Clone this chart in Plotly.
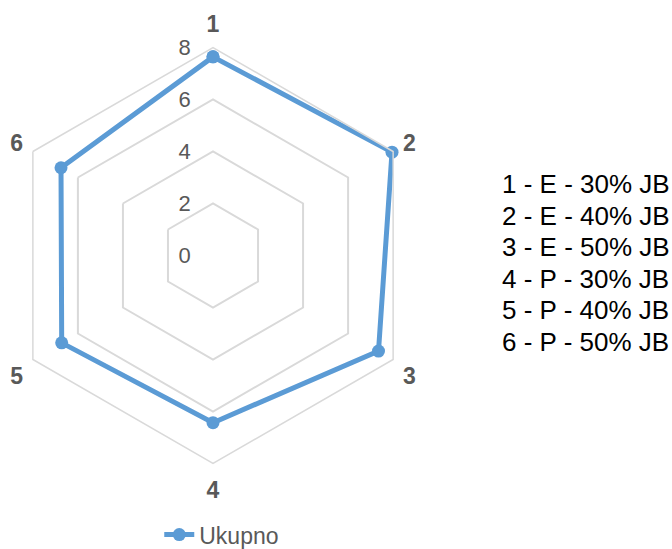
import plotly.graph_objects as go

# Radar categories and the "Ukupno" totals for each
categories = ["1", "2", "3", "4", "5", "6"]
ukupno = [7.64, 7.95, 7.35, 6.43, 6.72, 6.75]
radial_ticks = [0, 2, 4, 6, 8]
key_lines = [
    "1 - E - 30% JB",
    "2 - E - 40% JB",
    "3 - E - 50% JB",
    "4 - P - 30% JB",
    "5 - P - 40% JB",
    "6 - P - 50% JB",
]

BLUE = "#5B9BD5"
GRID = "#D9D9D9"
TEXT = "#595959"
FONT = "Liberation Sans, Arial, sans-serif"

fig = go.Figure()
fig.add_trace(
    go.Scatterpolar(
        r=ukupno + ukupno[:1],
        theta=categories + categories[:1],
        mode="lines+markers",
        name="Ukupno",
        line=dict(color=BLUE, width=5),
        marker=dict(color=BLUE, size=13),
    )
)

W, H = 672, 549
cx, cy, R = 213, 255.5, 208

# key text block on the right, one line per category
key_top, key_step = 184, 31.6
annotations = [
    dict(
        text=line,
        x=500 / W,
        xref="paper",
        xanchor="left",
        y=1 - (key_top + i * key_step) / H,
        yref="paper",
        yanchor="middle",
        align="left",
        showarrow=False,
        font=dict(size=26, color="black", family=FONT),
    )
    for i, line in enumerate(key_lines)
]

fig.update_layout(
    width=W,
    height=H,
    margin=dict(l=0, r=0, t=0, b=0, autoexpand=False),
    paper_bgcolor="white",
    font=dict(family=FONT, color=TEXT),
    polar=dict(
        domain=dict(
            x=[(cx - R) / W, (cx + R) / W],
            y=[1 - (cy + R) / H, 1 - (cy - R) / H],
        ),
        bgcolor="white",
        gridshape="linear",
        radialaxis=dict(
            range=[0, 8],
            tickvals=radial_ticks,
            angle=90,
            tickangle=90,
            side="counterclockwise",
            showline=False,
            ticks="outside",
            ticklen=14,
            tickcolor="rgba(0,0,0,0)",
            gridcolor=GRID,
            gridwidth=1.5,
            tickfont=dict(size=22, color=TEXT, family=FONT),
        ),
        angularaxis=dict(
            rotation=90,
            direction="clockwise",
            showgrid=False,
            showline=True,
            linecolor=GRID,
            linewidth=1.5,
            ticks="outside",
            ticklen=6,
            tickcolor="rgba(0,0,0,0)",
            tickfont=dict(size=23, color=TEXT, family=FONT, weight="bold"),
        ),
    ),
    showlegend=True,
    legend=dict(
        orientation="h",
        x=0.33,
        xanchor="center",
        y=-0.013,
        yref="paper",
        yanchor="bottom",
        font=dict(size=23, color=TEXT, family=FONT),
        bgcolor="rgba(0,0,0,0)",
    ),
    annotations=annotations,
)

fig.write_html("out.html")
